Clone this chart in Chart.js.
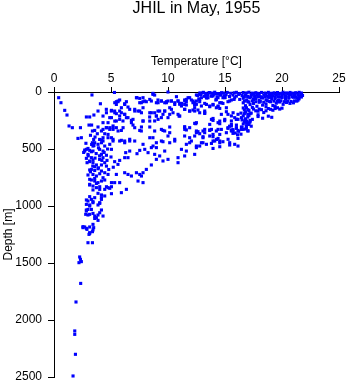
<!DOCTYPE html>
<html>
<head>
<meta charset="utf-8">
<script src="https://cdn.jsdelivr.net/npm/chart.js@4.4.0/dist/chart.umd.min.js"></script>
<style>
  body { margin: 0; background: #fff; }
  canvas { display: block; }
</style>
</head>
<body>
<canvas id="chart" width="348" height="384"></canvas>
<script>
// JHIL casts, May 1955 -- each pair is [temperature degC, depth m]
const titleText = "JHIL in May, 1955";
const tempLabel = "Temperature [\u00B0C]";
const depthLabel = "Depth [m]";
const tempTicks = [0, 5, 10, 15, 20, 25];
const depthTicks = [0, 500, 1000, 1500, 2000, 2500];

// warm surface layer, top 50 m
const surfaceTop = [
  [12.8, 8], [13.1, 3], [13.3, 12], [13.6, 5], [13.9, 10], [14.1, 2], [14.4, 14], [14.7, 6], [14.9, 9],
  [15.2, 4], [15.5, 11], [15.8, 7], [16.0, 3], [16.3, 13], [16.6, 5], [16.9, 8], [17.1, 2], [17.4, 10],
  [17.7, 6], [17.9, 12], [18.2, 4], [18.5, 9], [18.8, 3], [19.0, 11], [19.3, 7], [19.6, 5], [19.9, 12],
  [20.1, 2], [20.4, 8], [20.7, 4], [20.9, 10], [21.2, 6], [21.5, 3], [21.7, 9],
  [20.2, 18], [20.5, 15], [20.8, 17], [21.1, 16], [21.4, 18], [21.7, 20], [21.8, 30], [19.7, 18],
  [19.4, 20], [19.1, 16], [18.6, 18], [18.0, 20], [17.5, 17]
];
const surfaceMid = [
  [12.6, 30], [12.9, 22], [13.2, 38], [13.5, 26], [13.8, 35], [14.0, 20], [14.3, 42], [14.6, 28], [14.9, 33],
  [15.1, 24], [15.4, 40], [15.7, 27], [16.0, 36], [16.2, 21], [16.5, 31], [16.8, 25], [17.0, 39], [17.3, 23],
  [17.6, 34], [17.8, 29], [18.1, 41], [18.4, 26], [18.7, 37], [18.9, 22], [19.2, 32], [19.5, 28], [19.8, 43],
  [20.0, 24], [20.3, 35], [20.6, 30], [20.8, 21], [21.1, 38], [21.4, 27], [21.6, 33],
  [16.7, 42], [17.0, 45], [17.3, 40], [17.6, 46], [17.9, 43], [18.2, 48], [18.5, 41], [18.8, 45], [19.1, 40],
  [19.4, 47], [19.7, 42], [20.0, 44], [20.3, 40], [20.6, 46], [20.9, 42], [21.2, 45], [21.5, 40], [21.7, 44]
];
// thermocline, 50-380 m
const thermoUpper = [
  [12.7, 60], [13.4, 52], [14.2, 70], [15.0, 48], [15.8, 65], [16.6, 55], [16.9, 72], [17.2, 50], [17.5, 66],
  [17.7, 58], [18.0, 75], [18.3, 53], [18.6, 68], [18.9, 47], [19.1, 62], [19.4, 57], [19.7, 71], [20.0, 49],
  [20.3, 63], [20.6, 54], [21.0, 46], [21.3, 52],
  [16.6, 95], [16.8, 120], [17.0, 85], [17.2, 110], [17.5, 100], [17.8, 125], [18.0, 90], [18.3, 115],
  [18.6, 105], [18.9, 82], [19.2, 118], [19.5, 98], [19.8, 88], [20.1, 108], [20.4, 92],
  [21.0, 95], [21.3, 80], [20.7, 100], [21.5, 60],
  [16.7, 80], [17.1, 88], [17.4, 78], [17.7, 85], [18.1, 82], [18.4, 90], [18.7, 76], [19.0, 86], [19.3, 80],
  [19.6, 84], [19.9, 77], [20.2, 85], [20.5, 80], [20.8, 83], [21.1, 78], [21.4, 72]
];
const thermoLower = [
  [16.6, 140], [16.8, 175], [17.0, 155], [17.2, 190], [17.4, 135], [17.7, 165], [18.0, 150], [18.4, 180],
  [18.8, 145], [19.2, 160], [19.6, 138], [20.0, 142], [18.6, 130], [19.4, 128], [17.9, 200],
  [16.7, 158], [17.1, 162], [17.5, 150], [17.9, 168], [18.2, 155], [18.6, 165], [19.0, 152], [19.4, 145], [19.8, 150],
  [16.6, 210], [16.8, 235], [17.0, 220], [17.2, 250], [16.7, 265], [16.9, 275], [17.1, 205], [17.9, 215],
  [18.3, 230], [18.8, 212], [19.1, 222], [17.4, 240],
  [16.4, 185], [16.7, 190], [17.0, 195], [17.3, 185], [16.5, 245], [16.9, 255], [17.2, 262], [16.6, 280], [17.1, 270],
  [15.4, 300], [15.7, 330], [16.0, 290], [16.2, 345], [16.5, 310], [16.8, 325], [17.1, 285], [17.3, 300],
  [15.9, 360], [16.4, 370], [17.0, 340], [16.1, 375]
];
// scattered mid temperatures
const midScatter = [
  [11.46, 70], [11.18, 100], [11.61, 114], [12.34, 94], [12.78, 85], [13.22, 100], [12.19, 158], [12.63, 158],
  [13.22, 188], [13.66, 129], [13.95, 114], [14.39, 129], [14.82, 100], [15.26, 85], [15.56, 70], [14.54, 144],
  [15.12, 173], [13.95, 232], [14.39, 269], [12.34, 275], [11.46, 304], [11.61, 333], [12.63, 348], [13.22, 328],
  [13.66, 333], [13.07, 392], [13.66, 386], [13.95, 392], [14.39, 407], [15.26, 319], [15.56, 333], [16.0, 319],
  [15.7, 363], [16.14, 407], [14.82, 436], [15.41, 465], [14.54, 480], [13.95, 495], [13.81, 451],
  [5.47, 85], [5.76, 70], [6.35, 85], [7.52, 56], [7.81, 85], [8.68, 12], [9.12, 70], [9.86, 85],
  [10.74, 41], [11.03, 100], [11.61, 85], [12.05, 70], [12.49, 26], [12.34, 114]
];
const midUpper = [
  [5.33, 94], [5.62, 79], [6.20, 103], [7.23, 50], [7.66, 94], [7.96, 79], [8.40, 65], [8.83, 27], [9.13, 94],
  [9.42, 79], [9.71, 94], [10.00, 79], [10.30, 79], [10.59, 94], [10.88, 79], [11.03, 108], [11.47, 79],
  [11.76, 50], [12.20, 79], [12.49, 108], [12.78, 65], [13.37, 50], [13.81, 35], [14.24, 65], [14.54, 94],
  [14.98, 50], [15.41, 79], [15.85, 50], [16.29, 65],
  [4.59, 152], [5.03, 167], [5.33, 182], [5.76, 167], [6.20, 196], [6.64, 152], [7.08, 152], [7.52, 167],
  [7.81, 138], [8.40, 182], [8.83, 182], [9.27, 167], [9.71, 167], [10.15, 138], [10.44, 182], [11.03, 211],
  [11.47, 152], [11.90, 167], [12.34, 138], [12.78, 182], [13.22, 167], [13.66, 123], [14.24, 138],
  [14.68, 196], [15.12, 138], [15.71, 182], [15.85, 225], [16.14, 240]
];
const midLower = [
  [4.30, 211], [4.89, 225], [5.33, 255], [5.76, 240], [6.35, 225], [6.93, 240], [6.79, 269], [7.81, 255],
  [8.40, 255], [8.98, 211], [9.13, 240], [9.42, 225], [10.00, 225], [10.15, 196], [10.97, 211], [12.49, 269],
  [13.81, 240], [14.54, 255], [14.98, 240], [15.56, 284], [16.00, 240],
  [4.16, 342], [4.59, 313], [4.89, 328], [5.18, 313], [5.62, 342], [6.06, 313], [7.08, 313], [7.66, 342],
  [8.40, 307], [8.83, 342], [9.42, 328], [9.71, 342], [10.15, 357], [11.47, 328], [11.90, 313], [12.49, 357],
  [13.07, 342], [13.81, 328], [14.24, 342], [14.54, 372], [15.12, 357], [15.56, 342], [16.00, 313],
  [16.44, 328], [16.88, 313],
  [4.30, 430], [4.74, 401], [5.18, 415], [5.76, 430], [6.20, 445], [6.64, 415], [7.08, 430], [7.81, 459],
  [8.40, 401], [8.69, 474], [9.42, 430], [10.15, 445], [10.59, 415], [11.61, 459], [12.05, 430], [12.49, 474],
  [12.93, 445], [13.37, 459], [14.10, 430], [14.54, 445], [15.27, 415], [15.85, 459]
];
const midCasts = [
  [8.68, 21], [8.54, 79], [8.98, 94], [9.42, 79], [10.0, 0], [9.86, 94], [10.3, 79], [10.59, 109], [10.88, 79],
  [11.18, 123], [11.46, 109], [11.61, 65], [11.9, 50], [12.19, 94], [12.34, 109], [12.49, 79], [12.78, 21],
  [12.93, 50], [13.07, 6], [13.37, 21], [13.66, 6], [13.51, 50], [13.95, 35], [14.25, 15], [14.39, 50],
  [14.54, 21], [14.82, 50], [14.68, 94], [14.39, 123], [13.95, 109], [13.37, 109], [12.93, 123], [13.22, 182],
  [12.34, 167], [11.9, 167], [11.46, 152], [10.88, 196], [10.3, 152], [9.71, 167], [9.12, 167], [8.98, 210],
  [9.56, 196], [8.54, 182], [8.39, 219], [8.83, 254], [15.26, 196], [15.56, 210], [16.14, 196], [16.0, 240],
  [15.56, 254], [14.97, 252], [16.44, 225], [16.88, 138], [16.73, 254], [12.43, 278], [13.66, 284],
  [13.95, 249], [14.54, 278], [14.39, 328], [14.68, 328], [15.26, 313], [15.56, 298], [15.7, 342],
  [16.14, 337], [16.44, 307], [16.88, 298], [17.02, 342], [16.58, 328], [13.66, 337], [13.22, 357],
  [12.78, 366], [12.49, 342], [12.34, 386], [11.46, 313], [10.15, 307], [9.56, 337], [10.0, 386], [8.68, 401],
  [11.46, 386], [11.9, 401], [13.07, 401], [13.95, 372], [14.25, 416], [14.54, 430], [13.95, 430],
  [13.07, 445], [11.9, 445], [10.59, 430], [9.56, 436], [8.98, 445], [9.71, 518], [8.98, 488], [8.54, 488],
  [8.83, 547], [9.27, 561], [10.0, 591], [9.56, 605], [8.98, 591], [10.88, 576], [11.18, 503], [11.61, 518],
  [12.49, 488], [12.78, 474], [12.34, 547], [11.46, 561], [10.88, 620], [8.54, 640], [16.14, 474], [15.41, 445]
];
// cold side, 0-900 m
const coldCasts = [
  [0.41, 50], [0.61, 94], [0.94, 161], [1.14, 202], [1.32, 298], [1.61, 313], [2.32, 313], [2.1, 407],
  [2.4, 401], [3.33, 26], [5.3, 4], [4.07, 103], [3.86, 167], [3.5, 202], [2.84, 219], [3.13, 219], [3.07, 290],
  [3.3, 290], [3.37, 342], [3.57, 337], [3.86, 307], [3.8, 366], [3.48, 416], [3.37, 445], [3.57, 445],
  [3.42, 474], [2.84, 503], [3.13, 512], [2.69, 518], [2.98, 547], [3.42, 518], [3.28, 576], [3.13, 605],
  [3.42, 620], [3.72, 640], [4.0, 591], [4.16, 547], [4.0, 503], [4.3, 518], [3.86, 459], [4.16, 445],
  [4.0, 416], [4.3, 401], [4.45, 474], [4.3, 576], [4.45, 620], [4.16, 640], [4.65, 600], [5.04, 503],
  [4.89, 459], [5.18, 430], [5.04, 401], [4.74, 372], [4.45, 366], [4.3, 328], [4.6, 313], [4.89, 313],
  [5.18, 328], [5.47, 313], [5.91, 337], [5.18, 298], [4.74, 269], [4.3, 269], [5.47, 254], [5.04, 225],
  [4.6, 182], [5.04, 161], [5.32, 167], [5.47, 190], [5.76, 210], [5.61, 85], [5.47, 109], [5.91, 138],
  [6.2, 109], [6.49, 132], [5.91, 182], [6.2, 196], [6.49, 225], [6.79, 249], [6.05, 254], [6.2, 430],
  [5.91, 424], [6.64, 430], [6.93, 290], [7.52, 337], [7.67, 307], [7.08, 167], [7.37, 167], [7.67, 182],
  [7.81, 254], [7.28, 50], [7.81, 50], [7.52, 94], [8.1, 85], [7.52, 512], [7.28, 541], [6.64, 518],
  [6.29, 532], [6.2, 576], [5.76, 600], [5.32, 611], [5.61, 635], [6.49, 576], [7.96, 503], [8.25, 532],
  [3.2, 380], [3.6, 395], [4.2, 420], [3.3, 460], [3.9, 490], [4.4, 530], [3.0, 560], [3.6, 580], [4.2, 600],
  [3.4, 650], [3.9, 665], [4.6, 650], [3.2, 700], [4.8, 680], [5.2, 660], [2.9, 620], [3.7, 540], [4.0, 560],
  [4.6, 555], [5.0, 570], [3.5, 470], [4.7, 500], [2.8, 450], [2.6, 530]
];
// deep water, 650-1350 m
const deepCasts = [
  [3.28, 679], [3.57, 688], [3.86, 673], [4.16, 693], [4.45, 708], [4.74, 723], [3.42, 723], [3.72, 737],
  [4.01, 717], [4.3, 752], [3.13, 766], [3.57, 781], [3.86, 795], [4.16, 781], [3.13, 810], [3.42, 825],
  [3.72, 839], [4.01, 854], [4.45, 854], [4.74, 839], [5.04, 795], [5.32, 795], [5.76, 795], [5.47, 723],
  [6.2, 708], [6.49, 723], [6.79, 737], [7.23, 708], [7.52, 723], [7.81, 708], [8.1, 679], [7.67, 737],
  [7.37, 781], [7.81, 795], [6.35, 854], [5.91, 883], [5.04, 892], [4.45, 912], [4.16, 927], [3.57, 927],
  [3.28, 942], [2.98, 956], [2.84, 986], [3.13, 1000], [3.42, 971], [4.01, 971], [4.16, 942], [3.86, 991],
  [3.28, 1030], [2.98, 1030], [2.84, 1044], [2.78, 1073], [3.13, 1073], [4.01, 1059], [4.3, 1088],
  [3.72, 1102], [3.57, 1088], [3.86, 1126], [3.42, 1161], [3.13, 1184], [2.69, 1184], [2.54, 1190],
  [2.89, 1205], [3.13, 1234], [3.48, 1190], [3.37, 1225], [3.07, 1249], [2.98, 1322], [3.37, 1322],
  [2.7, 509], [2.98, 495], [3.28, 524], [2.84, 582], [3.13, 611], [3.42, 596], [3.57, 655], [3.13, 684],
  [2.98, 728], [3.28, 772], [3.57, 758], [3.72, 802], [4.01, 831], [4.6, 831], [4.89, 845], [5.04, 831],
  [4.45, 772], [3.13, 816], [3.42, 859], [3.86, 889], [4.16, 903], [3.13, 918], [2.84, 947], [3.13, 991],
  [3.42, 962], [2.84, 1035], [2.98, 1079], [3.42, 1065], [3.86, 1079], [4.16, 1035], [4.01, 977],
  [3.57, 1109], [2.54, 1181], [2.84, 1196], [3.13, 1240], [3.42, 1210]
];
// bottom water, below 1400 m
const bottomCasts = [
  [2.25, 1447], [2.32, 1468], [2.19, 1497], [2.4, 1488], [2.34, 1679], [1.93, 1842], [1.82, 2096],
  [1.82, 2126], [1.88, 2301], [1.67, 2491]
];

const allCasts = [surfaceTop, surfaceMid, thermoUpper, thermoLower, midScatter, midUpper, midLower,
  midCasts, coldCasts, deepCasts, bottomCasts];
const points = allCasts.flat().map(p => ({ x: p[0], y: p[1] }));

const font = { family: "'Liberation Sans', Arial, sans-serif", size: 12 };

new Chart(document.getElementById("chart"), {
  type: "scatter",
  data: {
    datasets: [{
      data: points,
      backgroundColor: "#0000ff",
      borderWidth: 0,
      pointStyle: "rect",
      pointRadius: 2.2,
      pointHoverRadius: 2.2,
      clip: 4
    }]
  },
  options: {
    responsive: false,
    animation: false,
    devicePixelRatio: 1,
    events: [],
    layout: { padding: { left: 0, right: 9, top: 0, bottom: 7 } },
    plugins: {
      legend: { display: false },
      tooltip: { enabled: false },
      title: {
        display: true,
        text: titleText,
        fullSize: false,
        color: "#000",
        font: { family: font.family, size: 16, weight: "normal", lineHeight: 1 },
        padding: { top: 1, bottom: 15 }
      }
    },
    scales: {
      x: {
        type: "linear",
        position: "top",
        min: 0,
        max: 25,
        afterBuildTicks: s => { s.ticks = tempTicks.map(v => ({ value: v })); },
        afterFit: s => { s.height = 60; s.paddingLeft = 0; s.paddingRight = 0; },
        grid: { drawOnChartArea: false, tickLength: 5, tickColor: "#000" },
        border: { color: "#000" },
        ticks: { color: "#000", font: font, padding: 1, maxRotation: 0, callback: v => String(v) },
        title: { display: true, text: tempLabel, color: "#000", font: font, padding: { top: 22, bottom: 0 } }
      },
      y: {
        type: "linear",
        reverse: true,
        min: 0,
        max: 2500,
        afterBuildTicks: s => { s.ticks = depthTicks.map(v => ({ value: v })); },
        afterFit: s => { s.width = 54; s.paddingTop = 0; s.paddingBottom = 0; },
        grid: { drawOnChartArea: false, tickLength: 6, tickColor: "#000" },
        border: { color: "#000" },
        ticks: { color: "#000", font: font, padding: 6, callback: v => String(v) },
        title: { display: true, text: depthLabel, color: "#000", font: font, padding: { top: 1, bottom: 0 } }
      }
    }
  }
});
</script>
</body>
</html>
